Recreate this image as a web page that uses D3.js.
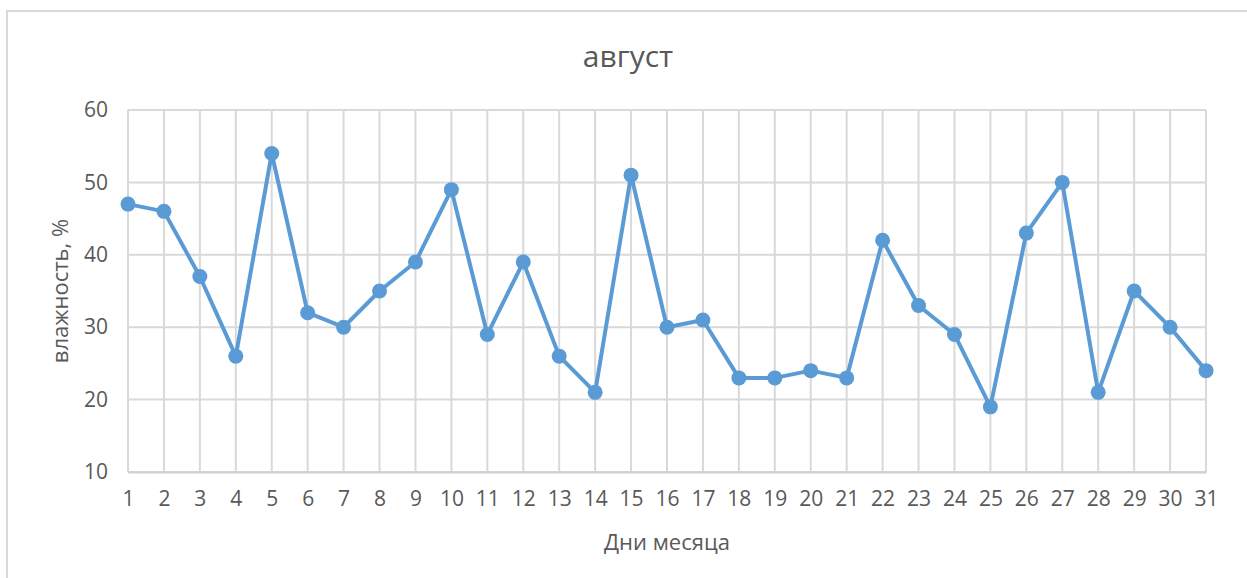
<!DOCTYPE html>
<html>
<head>
<meta charset="utf-8">
<script src="https://cdnjs.cloudflare.com/ajax/libs/d3/7.8.5/d3.min.js"></script>
<style>
    body { margin: 0; background: #fff; }
    text { font-family: "Open Sans", "Noto Sans", sans-serif; fill: #595959; }
</style>
</head>
<body>
<div id="chart"></div>
<script>
// data
let days = d3.range(1, 32);
let humidity = [47, 46, 37, 26, 54, 32, 30, 35, 39, 49, 29, 39, 26, 21, 51, 30, 31,
                23, 23, 24, 23, 42, 33, 29, 19, 43, 50, 21, 35, 30, 24];
let yTicks = [10, 20, 30, 40, 50, 60];
let title = "август";
let xLabel = "Дни месяца";
let yLabel = "влажность, %";

let W = 1247, H = 578;
let margin = {top: 110, right: 41, bottom: 106, left: 128};
let width = W - margin.left - margin.right;
let height = H - margin.top - margin.bottom;

let svg = d3.select("#chart").append("svg")
    .attr("width", W)
    .attr("height", H);

// outer chart border
svg.append("rect")
    .attr("x", 7).attr("y", 11)
    .attr("width", W + 10).attr("height", H + 10)
    .attr("fill", "none")
    .attr("stroke", "#d9d9d9")
    .attr("stroke-width", 2);

let g = svg.append("g")
    .attr("transform", "translate(" + margin.left + "," + margin.top + ")");

let x = d3.scalePoint()
    .domain(days)
    .range([0, width]);

let y = d3.scaleLinear()
    .domain([10, 60])
    .range([height, 0]);

// horizontal gridlines
g.append("g")
    .selectAll("line")
    .data(yTicks)
    .enter().append("line")
    .attr("x1", 0).attr("x2", width)
    .attr("y1", d => y(d)).attr("y2", d => y(d))
    .attr("stroke", "#d9d9d9")
    .attr("stroke-width", 2);

// vertical gridlines
g.append("g")
    .selectAll("line")
    .data(days)
    .enter().append("line")
    .attr("x1", d => x(d)).attr("x2", d => x(d))
    .attr("y1", 0).attr("y2", height)
    .attr("stroke", "#d9d9d9")
    .attr("stroke-width", 2);

// y axis
let yAxis = g.append("g")
    .call(d3.axisLeft(y).tickValues(yTicks).tickSize(0).tickPadding(20));
yAxis.select(".domain").remove();
yAxis.selectAll("text")
    .style("font-size", "21px")
    .attr("fill", "#595959");

// x axis
let xAxis = g.append("g")
    .attr("transform", "translate(0," + height + ")")
    .call(d3.axisBottom(x).tickSize(0).tickPadding(19));
xAxis.select(".domain")
    .attr("stroke", "#d0d0d0")
    .attr("stroke-width", 2);
xAxis.selectAll("text")
    .style("font-size", "21px")
    .attr("fill", "#595959");

// line
let line = d3.line()
    .x((d, i) => x(days[i]))
    .y(d => y(d));

g.append("path")
    .datum(humidity)
    .attr("d", line)
    .attr("fill", "none")
    .attr("stroke", "#5b9bd5")
    .attr("stroke-width", 4)
    .attr("stroke-linejoin", "round");

g.selectAll("circle")
    .data(humidity)
    .enter().append("circle")
    .attr("cx", (d, i) => x(days[i]))
    .attr("cy", d => y(d))
    .attr("r", 7.5)
    .attr("fill", "#5b9bd5");

// title
svg.append("text")
    .attr("x", 628)
    .attr("y", 67)
    .style("text-anchor", "middle")
    .style("font-size", "30px")
    .text(title);

// x label
svg.append("text")
    .attr("x", margin.left + width / 2)
    .attr("y", 550)
    .style("text-anchor", "middle")
    .style("font-size", "22px")
    .text(xLabel);

// y label
svg.append("text")
    .attr("transform", "rotate(-90)")
    .attr("x", -(margin.top + height / 2))
    .attr("y", 68)
    .style("text-anchor", "middle")
    .style("font-size", "22px")
    .text(yLabel);
</script>
</body>
</html>
